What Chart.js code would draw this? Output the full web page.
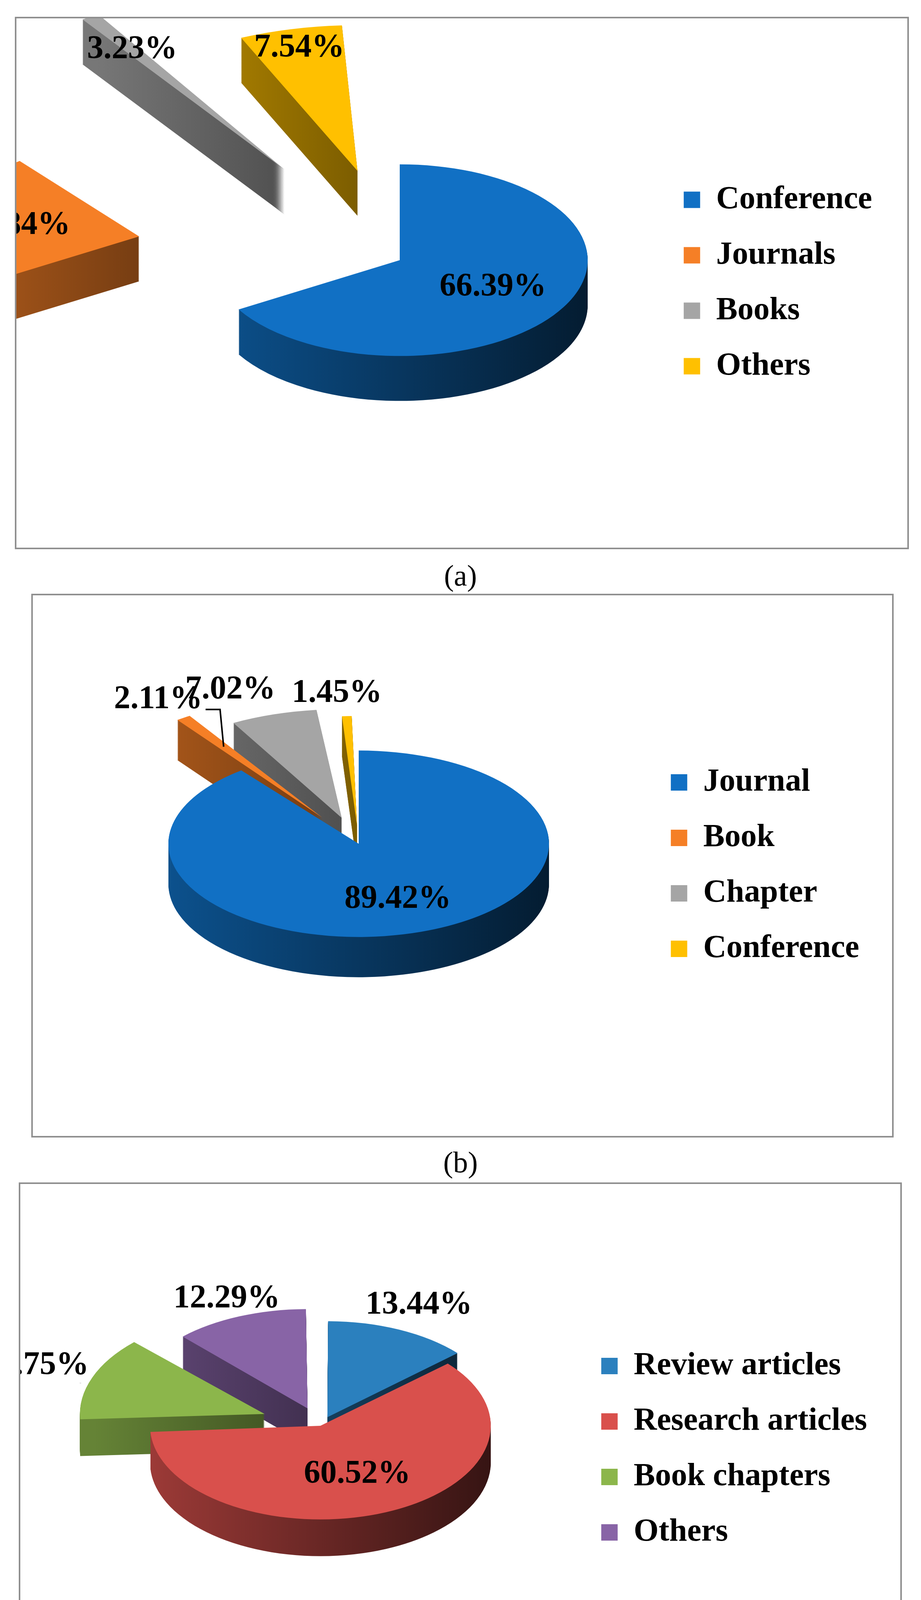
<!DOCTYPE html>
<html>
<head>
<meta charset="utf-8">
<script src="https://cdn.jsdelivr.net/npm/chart.js@4.4.0/dist/chart.umd.min.js"></script>
<style>
  body { margin: 0; background: #fff; width: 2357px; height: 4544px; position: relative; overflow: hidden; }
  .panel { position: absolute; border: 4px solid #8f8f8f; box-sizing: border-box; }
  .panel canvas { position: absolute; left: 0; top: 0; }
  .cap { position: absolute; left: 0; width: 2357px; text-align: center; line-height: 90px;
         font: 76px "Liberation Serif", serif; color: #000; }
</style>
</head>
<body>
<div class="panel" style="left:38px;top:43px;width:2288px;height:1363px"><canvas id="chartA" width="2280" height="1355"></canvas></div>
<div class="cap" style="top:1430px">(a)</div>
<div class="panel" style="left:80px;top:1520px;width:2207px;height:1392px"><canvas id="chartB" width="2199" height="1384"></canvas></div>
<div class="cap" style="top:2932px">(b)</div>
<div class="panel" style="left:48px;top:3027px;width:2260px;height:1366px"><canvas id="chartC" width="2252" height="1358"></canvas></div>
<div class="cap" style="top:4422px">(c)</div>

<script>
// ---- data ----
const catsA = ['Conference', 'Journals', 'Books', 'Others'];
const valsA = [66.39, 22.84, 3.23, 7.54];
const colorsA = ['#1170c4', '#f57f26', '#a5a5a5', '#ffc000'];

const catsB = ['Journal', 'Book', 'Chapter', 'Conference'];
const valsB = [89.42, 2.11, 7.02, 1.45];
const colorsB = ['#1170c4', '#f57f26', '#a5a5a5', '#ffc000'];

const catsC = ['Review articles', 'Research articles', 'Book chapters', 'Others'];
const valsC = [13.44, 60.52, 13.75, 12.29];
const colorsC = ['#2b80be', '#d9504c', '#8cb64b', '#8864a6'];

function shade(hex, f) {
  const n = parseInt(hex.slice(1), 16);
  const r = (n >> 16) & 255, g = (n >> 8) & 255, b = n & 255;
  return 'rgb(' + Math.round(r * f) + ',' + Math.round(g * f) + ',' + Math.round(b * f) + ')';
}

// fake 3D: tilt the pie and extrude it downwards, then write the labels
const pie3d = {
  id: 'pie3d',
  beforeDatasetsDraw(chart, args, o) {
    const ctx = chart.ctx;
    const arcs = chart.getDatasetMeta(0).data;
    const a0 = arcs[0];
    const s = o.radius / a0.outerRadius;
    chart.$map = { s: s, k: o.tilt, tx: o.cx, ty: o.cy };
    for (let d = o.depth; d > 0; d -= 2) {
      ctx.save();
      ctx.translate(o.cx, o.cy + d);
      ctx.scale(s, s * o.tilt);
      ctx.translate(-a0.x, -a0.y);
      arcs.forEach(arc => {
        const saved = arc.options;
        const bg = saved.backgroundColor;
        const g = ctx.createLinearGradient(a0.x - a0.outerRadius, 0, a0.x + a0.outerRadius, 0);
        g.addColorStop(0, shade(bg, 0.72));
        g.addColorStop(1, shade(bg, 0.25));
        arc.options = Object.assign({}, saved, { backgroundColor: g });
        arc.draw(ctx);
        arc.options = saved;
      });
      ctx.restore();
    }
    ctx.save();
    ctx.translate(o.cx, o.cy);
    ctx.scale(s, s * o.tilt);
    ctx.translate(-a0.x, -a0.y);
  },
  afterDatasetsDraw(chart, args, o) {
    const ctx = chart.ctx;
    ctx.restore();
    const m = chart.$map;
    const ds = chart.data.datasets[0];
    const arcs = chart.getDatasetMeta(0).data;
    ctx.save();
    ctx.fillStyle = '#000';
    ctx.strokeStyle = '#000';
    ctx.lineWidth = 4;
    ctx.font = 'bold 84px "Liberation Serif"';
    ctx.textAlign = 'center';
    ctx.textBaseline = 'middle';
    arcs.forEach((arc, i) => {
      const mid = (arc.startAngle + arc.endAngle) / 2;
      const off = (ds.offset[i] || 0) / 4;   // Chart.js draws a quarter of the offset
      const r = o.labelR[i] * arc.outerRadius + off;
      const px = m.tx + m.s * r * Math.cos(mid) + (o.nudge[i] || 0);
      const py = m.ty + m.s * m.k * r * Math.sin(mid);
      const txt = ds.data[i].toFixed(2) + '%';
      ctx.fillText(txt, px, py);
      const w = ctx.measureText(txt).width;
      const ex = m.tx + m.s * (arc.outerRadius * 0.92 + off) * Math.cos(mid);
      const ey = m.ty + m.s * m.k * (arc.outerRadius * 0.92 + off) * Math.sin(mid);
      if (o.leader[i] === 'right') {
        ctx.beginPath();
        ctx.moveTo(px + w / 2 + 8, py + 25);
        ctx.lineTo(px + w / 2 + 45, py + 25);
        ctx.lineTo(ex, ey);
        ctx.stroke();
      } else if (o.leader[i] === 'down') {
        const lx = px + w * 0.42;
        ctx.beginPath();
        ctx.moveTo(lx, py + 45);
        ctx.lineTo(lx, ey);
        ctx.stroke();
      }
    });
    ctx.restore();
  }
};

function makePie(id, cats, vals, colors, offsets, padRight, look) {
  return new Chart(document.getElementById(id), {
    type: 'pie',
    data: {
      labels: cats,
      datasets: [{
        data: vals,
        backgroundColor: colors,
        borderWidth: 0,
        offset: offsets
      }]
    },
    options: {
      responsive: false,
      devicePixelRatio: 1,
      animation: false,
      layout: { padding: { right: padRight } },
      plugins: {
        tooltip: { enabled: false },
        legend: {
          position: 'right',
          labels: {
            color: '#000',
            font: { family: 'Liberation Serif', weight: 'bold', size: 82 },
            boxWidth: 42,
            boxHeight: 42,
            padding: 60
          }
        },
        pie3d: look
      }
    },
    plugins: [pie3d]
  });
}

makePie('chartA', catsA, valsA, colorsA, [0, 1000, 800, 680], 80,
  { cx: 981, cy: 619, radius: 481, tilt: 0.51, depth: 115,
    labelR: [0.57, 0.66, 1.49, 1.32], nudge: [0, 0, 0, 0], leader: [null, null, null, null] });

makePie('chartB', catsB, valsB, colorsB, [0, 560, 480, 320], 74,
  { cx: 834, cy: 636, radius: 487, tilt: 0.49, depth: 103,
    labelR: [0.63, 1.53, 1.44, 1.42], nudge: [0, 0, -70, -20], leader: [null, 'right', null, null] });

makePie('chartC', catsC, valsC, colorsC, [160, 0, 560, 320], 75,
  { cx: 768, cy: 619, radius: 436, tilt: 0.55, depth: 94,
    labelR: [1.31, 0.56, 1.44, 1.26], nudge: [0, 0, 0, 0], leader: [null, null, 'down', null] });
</script>
</body>
</html>
